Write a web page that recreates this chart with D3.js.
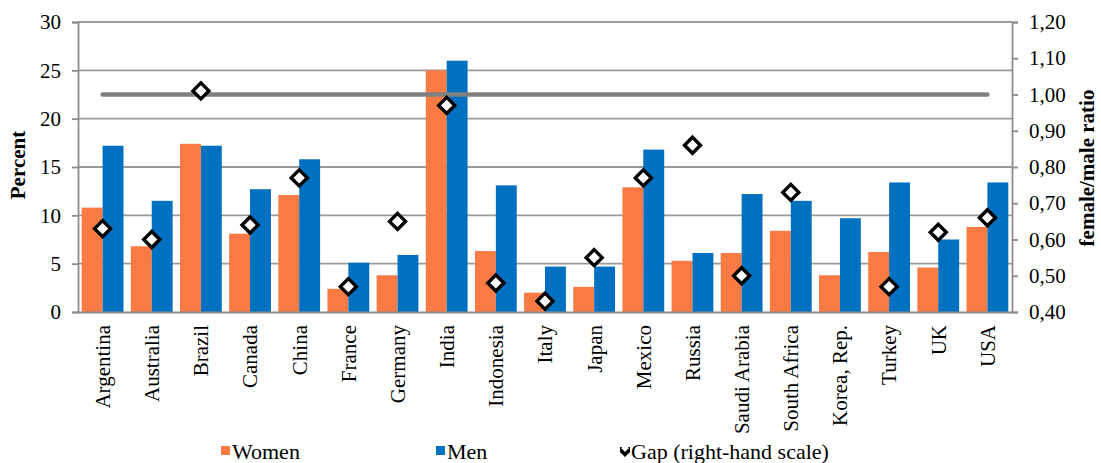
<!DOCTYPE html>
<html>
<head>
<meta charset="utf-8">
<script src="https://cdn.jsdelivr.net/npm/d3@7"></script>
<style>
  html, body { margin: 0; padding: 0; background: #fff; }
  svg text { font-family: "Liberation Serif", "Times New Roman", serif !important; }
</style>
</head>
<body>
<svg id="chart" width="1101" height="463"></svg>
<script>
// Employment shares by country (percent) and female/male ratio
const countries = ["Argentina", "Australia", "Brazil", "Canada", "China", "France", "Germany",
  "India", "Indonesia", "Italy", "Japan", "Mexico", "Russia", "Saudi Arabia", "South Africa",
  "Korea, Rep.", "Turkey", "UK", "USA"];
const women = [10.8, 6.8, 17.4, 8.1, 12.1, 2.4, 3.8, 25.0, 6.3, 2.0, 2.6, 12.9, 5.3, 6.1, 8.4, 3.8, 6.2, 4.6, 8.8];
const men   = [17.2, 11.5, 17.2, 12.7, 15.8, 5.1, 5.9, 26.0, 13.1, 4.7, 4.7, 16.8, 6.1, 12.2, 11.5, 9.7, 13.4, 7.5, 13.4];
const gap   = [0.63, 0.60, 1.01, 0.64, 0.77, 0.47, 0.65, 0.97, 0.48, 0.43, 0.55, 0.77, 0.86, 0.50, 0.73, null, 0.47, 0.62, 0.66];
const parityLevel = 1.0;
const leftTicks = [0, 5, 10, 15, 20, 25, 30];
const rightTicks = [0.4, 0.5, 0.6, 0.7, 0.8, 0.9, 1.0, 1.1, 1.2];
const seriesNames = ["Women", "Men", "Gap (right-hand scale)"];

const colors = { women: "#F97A43", men: "#0070C0", grid: "#9A9A9A", axis: "#8C8C8C", parity: "#808080" };
const serif = "Liberation Serif, Times New Roman, serif";

const svg = d3.select("#chart");
const plot = { left: 78, right: 1012, top: 22, bottom: 312 };

const x = d3.scaleBand().domain(countries).range([plot.left, plot.right])
  .paddingInner(0.15).paddingOuter(0.075);
const xSub = d3.scaleBand().domain(["women", "men"]).range([0, x.bandwidth()]);
const yL = d3.scaleLinear().domain([0, 30]).range([plot.bottom, plot.top]);
const yR = d3.scaleLinear().domain([0.4, 1.2]).range([plot.bottom, plot.top]);
const fmtR = v => d3.format(".2f")(v).replace(".", ",");

// horizontal gridlines
svg.append("g").selectAll("line").data(leftTicks.filter(d => d > 0)).join("line")
  .attr("x1", plot.left).attr("x2", plot.right)
  .attr("y1", d => yL(d)).attr("y2", d => yL(d))
  .attr("stroke", colors.grid).attr("stroke-width", 1.8);

// bars
const groups = svg.append("g").selectAll("g").data(countries).join("g")
  .attr("transform", d => `translate(${x(d)},0)`);
groups.append("rect")
  .attr("x", xSub("women")).attr("width", xSub.bandwidth())
  .attr("y", (d, i) => yL(women[i])).attr("height", (d, i) => yL(0) - yL(women[i]))
  .attr("fill", colors.women);
groups.append("rect")
  .attr("x", xSub("men")).attr("width", xSub.bandwidth())
  .attr("y", (d, i) => yL(men[i])).attr("height", (d, i) => yL(0) - yL(men[i]))
  .attr("fill", colors.men);

// left axis
const axL = svg.append("g").attr("transform", `translate(${plot.left},0)`)
  .call(d3.axisLeft(yL).tickValues(leftTicks).tickSize(6).tickPadding(11))
  .attr("font-family", serif);
axL.select(".domain").attr("stroke", colors.axis).attr("stroke-width", 1.8);
axL.selectAll(".tick line").attr("stroke", colors.axis).attr("stroke-width", 1.8);
axL.selectAll(".tick text").attr("font-size", 21).attr("fill", "#000");

// right axis
const axR = svg.append("g").attr("transform", `translate(${plot.right},0)`)
  .call(d3.axisRight(yR).tickValues(rightTicks).tickFormat(fmtR).tickSize(6).tickPadding(11))
  .attr("font-family", serif);
axR.select(".domain").attr("stroke", colors.axis).attr("stroke-width", 1.8);
axR.selectAll(".tick line").attr("stroke", colors.axis).attr("stroke-width", 1.8);
axR.selectAll(".tick text").attr("font-size", 21).attr("fill", "#000");

// x axis
const axB = svg.append("g").attr("transform", `translate(0,${plot.bottom})`)
  .call(d3.axisBottom(x).tickSize(0).tickPadding(0))
  .attr("font-family", serif);
axB.select(".domain").attr("stroke", colors.axis).attr("stroke-width", 1.8);
axB.selectAll(".tick text")
  .attr("font-size", 21).attr("fill", "#000")
  .attr("text-anchor", "end").attr("dy", "0.35em")
  .attr("transform", "translate(0,13) rotate(-90)")
  .attr("x", 0).attr("y", 0);

// parity line at 1.00 on the right-hand scale
svg.append("line")
  .attr("x1", x(countries[0]) + x.bandwidth() / 2)
  .attr("x2", x(countries[countries.length - 1]) + x.bandwidth() / 2)
  .attr("y1", yR(parityLevel)).attr("y2", yR(parityLevel))
  .attr("stroke", colors.parity).attr("stroke-width", 4.5).attr("stroke-linecap", "round");

// gap markers
const diamond = "M0,-8L8,0L0,8L-8,0Z";
svg.append("g").selectAll("path").data(countries.map((c, i) => ({ c, v: gap[i] })).filter(d => d.v != null))
  .join("path")
  .attr("d", diamond)
  .attr("transform", d => `translate(${x(d.c) + x.bandwidth() / 2},${yR(d.v)})`)
  .attr("fill", "#fff").attr("stroke", "#000").attr("stroke-width", 3.4)
  .attr("stroke-linejoin", "miter");

// axis titles
svg.append("text").attr("transform", "translate(25,165) rotate(-90)")
  .attr("text-anchor", "middle").attr("font-size", 21).attr("font-weight", "bold").text("Percent");
svg.append("text").attr("transform", "translate(1094,168) rotate(-90)")
  .attr("text-anchor", "middle").attr("font-size", 21).attr("font-weight", "bold").text("female/male ratio");

// legend
const legendX = [221, 436, 620];
const ly = 451;
const leg = svg.append("g");
leg.append("rect").attr("x", legendX[0]).attr("y", ly - 5).attr("width", 9).attr("height", 9).attr("fill", colors.women);
leg.append("rect").attr("x", legendX[1]).attr("y", ly - 5).attr("width", 9).attr("height", 9).attr("fill", colors.men);
svg.append("defs").append("clipPath").attr("id", "legclip")
  .append("rect").attr("x", legendX[2]).attr("y", ly - 4).attr("width", 10).attr("height", 10);
leg.append("g").attr("clip-path", "url(#legclip)")
  .append("path").attr("d", diamond)
  .attr("transform", `translate(${legendX[2] + 5},${ly - 3}) scale(0.8)`)
  .attr("fill", "#fff").attr("stroke", "#000").attr("stroke-width", 4.5);
seriesNames.forEach((s, i) => {
  leg.append("text").attr("x", legendX[i] + 11).attr("y", ly).attr("dy", "0.35em")
    .attr("font-size", 22).attr("font-family", serif).text(s);
});
</script>
</body>
</html>
